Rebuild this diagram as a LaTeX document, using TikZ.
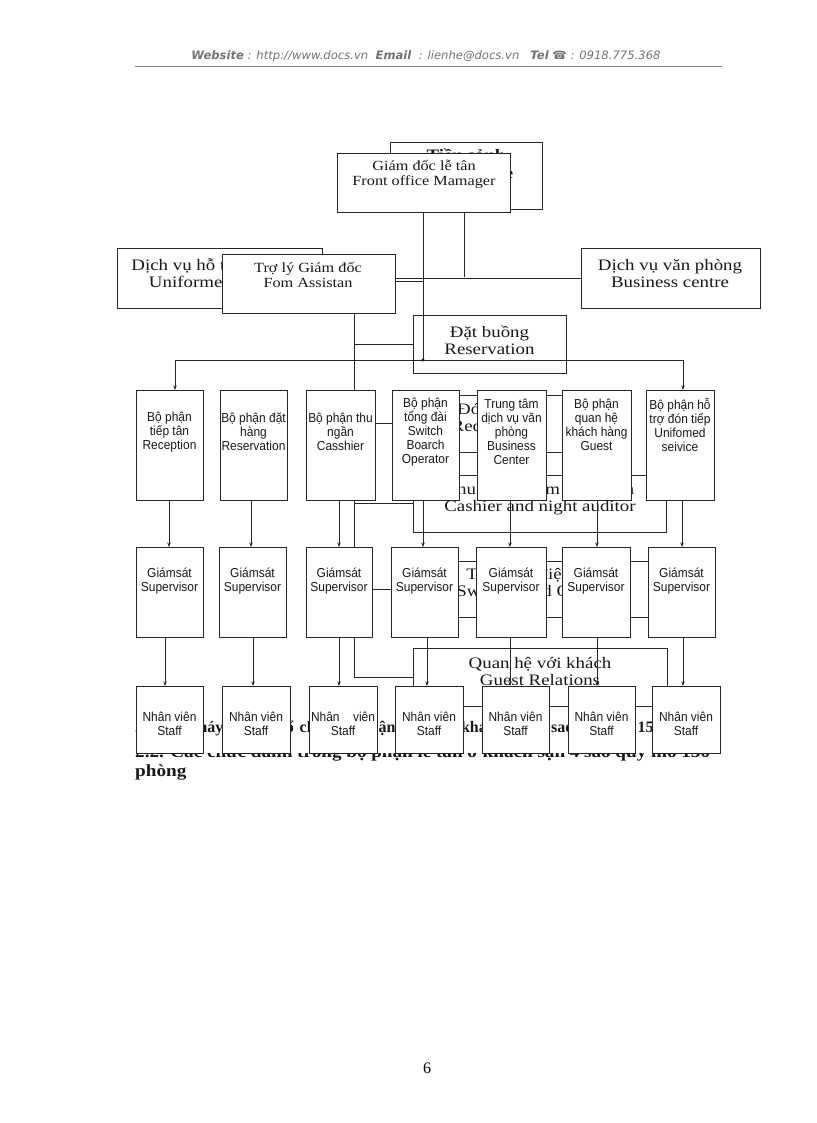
\documentclass[tikz,border=0pt]{standalone}
\usepackage{fontspec}
\setmainfont{Liberation Serif}
\newfontfamily\bigserif[FakeStretch=1.18]{Liberation Serif}
\newfontfamily\medserif[FakeStretch=1.16]{Liberation Serif}
\newfontfamily\headserif[FakeStretch=1.13]{Liberation Serif}
\newfontfamily\sansf[FakeStretch=0.92]{Liberation Sans}
\newfontfamily\hdrf{DejaVu Sans}[ItalicFont={DejaVu Sans Oblique},BoldItalicFont={DejaVu Sans Bold Oblique}]
\usetikzlibrary{arrows.meta}
\tikzset{
  ln/.style={line width=0.8pt, draw=black!85},
  box/.style={ln, rectangle, inner sep=0pt, outer sep=0pt, anchor=north west},
  fbox/.style={box, fill=white},
  arr/.style={ln, -{Stealth[length=4.5pt,width=3.5pt]}},
  bigtxt/.style={font=\bigserif\fontsize{16}{17}\selectfont, align=center, inner sep=0pt, text=black!90},
  medtxt/.style={font=\medserif\fontsize{14}{15}\selectfont, align=center, inner sep=0pt, text=black!90},
  smtxt/.style={font=\sansf\fontsize{13}{14}\selectfont, align=center, inner sep=0pt, text=black!90},
  headtxt/.style={inner sep=0pt, anchor=base west, text=black!90},
}
\newcommand\bxat[6][box]{\node[#1, minimum width={(#5-#3)*1pt}, minimum height={(#6-#4)*1pt}] (#2) at (#3,#4) {};}
\begin{document}
\begin{tikzpicture}[x=1pt,y=-1pt]
\useasboundingbox (0,0) rectangle (816,1123);
\fill[white] (0,0) rectangle (816,1123);

% header
\node[font=\hdrf\itshape\fontsize{11.6}{13}\selectfont, text=black!55, inner sep=0pt] (hdr) at (426,56)
  {{\bfseries Website} : http://www.docs.vn \ {\bfseries Email} \ : lienhe@docs.vn \ \ {\bfseries Tel} ☎ : 0918.775.368};
\draw[line width=0.6pt, black!50] (135,66) -- (722,66);

% heading line 2 and 3 (partly hidden behind the chart canvas)
\node[headtxt, font=\headserif\bfseries\fontsize{17}{19}\selectfont] (h2) at (135,757)
  {\makebox[575pt][s]{2.2. Các chức danh trong bộ phận lễ tân ở khách sạn 4 sao quy mô 150}};
\node[headtxt, font=\headserif\bfseries\fontsize{17}{19}\selectfont] (h3) at (135,776) {phòng};
\fill[white] (115,125) rectangle (765,753);

% background boxes
\bxat{ts}{390}{142}{542}{209}
\node[bigtxt, font=\bigserif\bfseries\fontsize{16}{18}\selectfont] (ts-t) at (466,164) {Tiền sảnh\\Front office};
\bxat{dv}{117}{248}{322}{308}
\node[bigtxt] (dv-t) at (219.5,273) {Dịch vụ hỗ trợ đón tiếp\\Uniformed service};
\bxat{bc}{581}{248}{760}{308}
\node[bigtxt] (bc-t) at (670,273.5) {Dịch vụ văn phòng\\Business centre};
\bxat{db}{413}{315}{566}{373}
\node[bigtxt] (db-t) at (489.5,340) {Đặt buồng\\Reservation};
\bxat{dt}{413}{395}{567}{452}
\node[bigtxt] (dt-t) at (490,419) {Đón tiếp\\Reception};
\bxat{tn}{413}{475}{666}{532}
\node[bigtxt] (tn-t) at (540,499) {Thu ngân kiểm toán đêm\\Cashier and night auditor};
\bxat{tdd}{413}{561}{666}{617}
\node[bigtxt] (tdd-t) at (540,583.5) {Tổng đài điện thoại\\Switchboard Operator};
\bxat{qh}{413}{648}{667}{706}
\node[bigtxt] (qh-t) at (540,672) {Quan hệ với khách\\Guest Relations};

% heading line 1 (behind the chart boxes)
\node[headtxt, font=\bfseries\fontsize{16}{18}\selectfont] (h1) at (135,732)
  {\makebox[575pt][s]{2.1. Bộ máy cơ cấu tổ chức bộ phận lễ tân ở khách sạn 4 sao quy mô 150 phòng}};

% connectors
\coordinate (jm) at (423,360);
\coordinate (jl) at (175,360);
\coordinate (jr) at (683,360);
\coordinate (tk) at (354,677);
\draw[ln] (ts.south -| 464,0) -- (464,277);
\draw[ln] (dv.east |- bc.west) -- (bc.west);
\draw[ln] (dv.east |- 0,281.5) -- (423,281.5);
\draw[ln] (423,212) -- (jm);
\fill[black] (jm) circle (1.6);
\draw[ln] (jl) -- (jr);
\draw[ln] (354,313) -- (tk) -- (qh.west);
\foreach \n in {db,dt,tn,tdd} \draw[ln] (tk |- \n.west) -- (\n.west);

% row 1
\bxat[fbox]{b1}{136}{390}{203}{500}
\bxat[fbox]{b2}{220}{390}{287}{500}
\bxat[fbox]{b3}{306}{390}{375}{500}
\bxat[fbox]{b4}{392}{390}{459}{500}
\bxat[fbox]{b5}{477}{390}{546}{500}
\bxat[fbox]{b6}{562}{390}{631}{500}
\bxat[fbox]{b7}{646}{390}{714}{500}
\node[smtxt] (b1-t) at (b1.center |- 0,432) {Bộ phận\\tiếp tân\\Reception};
\node[smtxt] (b2-t) at (b2.center |- 0,432) {Bộ phận đặt\\hàng\\Reservation};
\node[smtxt] (b3-t) at (b3.center |- 0,432) {Bộ phận thu\\ngần\\Casshier};
\node[smtxt] (b4-t) at (b4.center |- 0,432) {Bộ phận\\tổng đài\\Switch\\Boarch\\Operator};
\node[smtxt] (b5-t) at (b5.center |- 0,432) {Trung tâm\\dịch vụ văn\\phòng\\Business\\Center};
\node[smtxt] (b6-t) at (b6.center |- 0,425) {Bộ phận\\quan hệ\\khách hàng\\Guest};
\node[smtxt] (b7-t) at (b7.center |- 0,425) {Bộ phận hỗ\\trợ đón tiếp\\Unifomed\\seivice};

% row 2
\bxat[fbox]{g1}{136}{547}{203}{637}
\bxat[fbox]{g2}{219}{547}{286}{637}
\bxat[fbox]{g3}{306}{547}{372}{637}
\bxat[fbox]{g4}{391}{547}{458}{637}
\bxat[fbox]{g5}{476}{547}{546}{637}
\bxat[fbox]{g6}{562}{547}{630}{637}
\bxat[fbox]{g7}{648}{547}{715}{637}
\foreach \g in {g1,g2,g3,g4,g5,g6,g7}
  \node[smtxt] (\g-t) at (\g.center |- 0,581.5) {Giámsát\\Supervisor};

% row 3
\bxat[fbox]{s1}{136}{686}{203}{753}
\bxat[fbox]{s2}{222}{686}{290}{753}
\bxat[fbox]{s3}{309}{686}{377}{753}
\bxat[fbox]{s4}{395}{686}{463}{753}
\bxat[fbox]{s5}{482}{686}{549}{753}
\bxat[fbox]{s6}{568}{686}{635}{753}
\bxat[fbox]{s7}{652}{686}{720}{753}
\foreach \s in {s1,s2,s4,s5,s6,s7}
  \node[smtxt] (\s-t) at (\s.center |- 0,723.5) {Nhân viên\\Staff};
\node[smtxt] (s3-t) at (s3.center |- 0,723.5) {\makebox[64pt][s]{Nhân viên}\\Staff};

% arrows between rows
\draw[arr] (jl) -- (b1.north -| jl);
\draw[arr] (jr) -- (b7.north -| jr);
\foreach \a/\b/\x in {b1/g1/169, b2/g2/251, b3/g3/339, b4/g4/423, b5/g5/510, b6/g6/597, b7/g7/682}
  \draw[arr] (\a.south -| \x,0) -- (\b.north -| \x,0);
\foreach \a/\b/\x in {g1/s1/165, g2/s2/253, g3/s3/339, g4/s4/427, g5/s5/510, g6/s6/597, g7/s7/683}
  \draw[arr] (\a.south -| \x,0) -- (\b.north -| \x,0);

% top foreground boxes
\bxat[fbox]{gd}{337}{153}{510}{212}
\node[medtxt] (gd-t) at (424,174.5) {Giám đốc lễ tân\\Front office Mamager};
\bxat[fbox]{tl}{222}{254}{395}{313}
\node[medtxt] (tl-t) at (308,275) {Trợ lý Giám đốc\\Fom Assistan};

% page number
\node[font=\fontsize{16}{18}\selectfont, inner sep=0pt] (pg) at (427,1068) {6};
\end{tikzpicture}
\end{document}
